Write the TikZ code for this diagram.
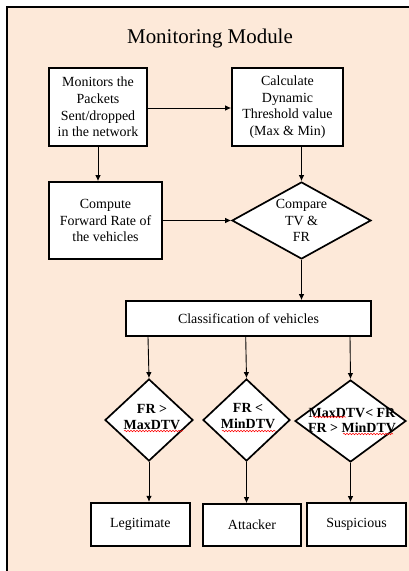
\documentclass[tikz,border=0pt]{standalone}
\usepackage{fontspec}
\setmainfont{Liberation Serif}
\usetikzlibrary{arrows.meta,shapes.geometric,decorations.pathmorphing}
\definecolor{panel}{RGB}{253,233,217}

\begin{document}
\begin{tikzpicture}[x=1bp,y=-1bp,
  txt/.style={font=\fontsize{14}{16.6}\selectfont, align=center},
  stepbox/.style={draw, line width=1.7bp, fill=white, inner sep=0pt, txt},
  decide/.style={draw, diamond, line width=1.7bp, fill=white, inner sep=0pt},
  flow/.style={draw, line width=0.9bp, -{Latex[length=6bp,width=5.5bp]}},
  wavy/.style={draw=red, line width=0.5bp, decorate,
    decoration={snake, amplitude=0.8bp, segment length=3bp}},
]
\useasboundingbox (0,0) rectangle (408,571);
\fill[white] (0,0) rectangle (408,571);
\draw[fill=panel, line width=2bp] (7,7) rectangle (440,600);

\node[font=\fontsize{21}{24}\selectfont] (title) at (210,39) {Monitoring Module};

% top row
\node[stepbox, minimum width=98bp, minimum height=78bp] (mon) at (98,107)
  {Monitors the\\Packets\\Sent/dropped\\in the network};
\node[stepbox, minimum width=111bp, minimum height=78bp] (calc) at (287.5,107)
  {Calculate\\Dynamic\\Threshold value\\(Max \& Min)};

% second row
\node[stepbox, minimum width=113bp, minimum height=77bp] (fwd) at (105.5,220.5)
  {Compute\\Forward Rate of\\the vehicles};
\node[decide, minimum width=139bp, minimum height=77bp] (cmp) at (301.5,220.5) {};
\node[txt] (cmptxt) at (cmp.center) {Compare\\TV \&\\FR};

% classification
\node[stepbox, minimum width=245bp, minimum height=35bp] (cls) at (248.5,318.5)
  {Classification of vehicles};

% decisions
\node[decide, minimum width=88bp, minimum height=82bp] (dl) at (149,420) {};
\node[txt, font=\fontsize{14}{16}\selectfont\bfseries] (dltxt) at (152,417)
  {FR >\\MaxDTV};
\node[decide, minimum width=87bp, minimum height=82bp] (dm) at (246.5,420) {};
\node[txt, font=\fontsize{14}{16}\selectfont\bfseries] (dmtxt) at (248,416)
  {FR <\\MinDTV};
\node[decide, minimum width=111bp, minimum height=82bp] (dr) at (350.5,421) {};
\node[txt, font=\fontsize{14}{14.5}\selectfont\bfseries] (drtxt) at (352,420.5)
  {MaxDTV< FR\\FR > MinDTV};

% spell-check marks under the abbreviations
\path[wavy] (124,431) -- (183,431);
\path[wavy] (222,431) -- (276,431);
\path[wavy] (313,417) -- (346,417);
\path[wavy] (343,434) -- (393,434);

% outcomes
\node[stepbox, minimum width=99bp, minimum height=43bp] (leg) at (140.3,524.2) {Legitimate};
\node[stepbox, minimum width=98bp, minimum height=42bp] (att) at (252,525) {Attacker};
\node[stepbox, minimum width=99bp, minimum height=43bp] (sus) at (356.5,524.5) {Suspicious};

% connectors
\draw[flow] (mon.east |- 0,108) -- (calc.west |- 0,108);
\draw[flow] (mon.south) -- (mon.south |- fwd.north);
\draw[flow] (calc.south -| cmp.north) -- (cmp.north);
\draw[flow] (fwd.east) -- (cmp.west);
\draw[flow] (cmp.south) -- (cmp.south |- cls.north);
\draw[flow] (cls.south -| 148,0) -- (dl.north);
\draw[flow] (cls.south -| 245.7,0) -- (dm.north);
\draw[flow] (cls.south -| 350,0) -- (dr.north);
\draw[flow] (dl.south) -- (dl.south |- leg.north);
\draw[flow] (dm.south) -- (dm.south |- att.north);
\draw[flow] (dr.south) -- (dr.south |- sus.north);
\end{tikzpicture}
\end{document}
